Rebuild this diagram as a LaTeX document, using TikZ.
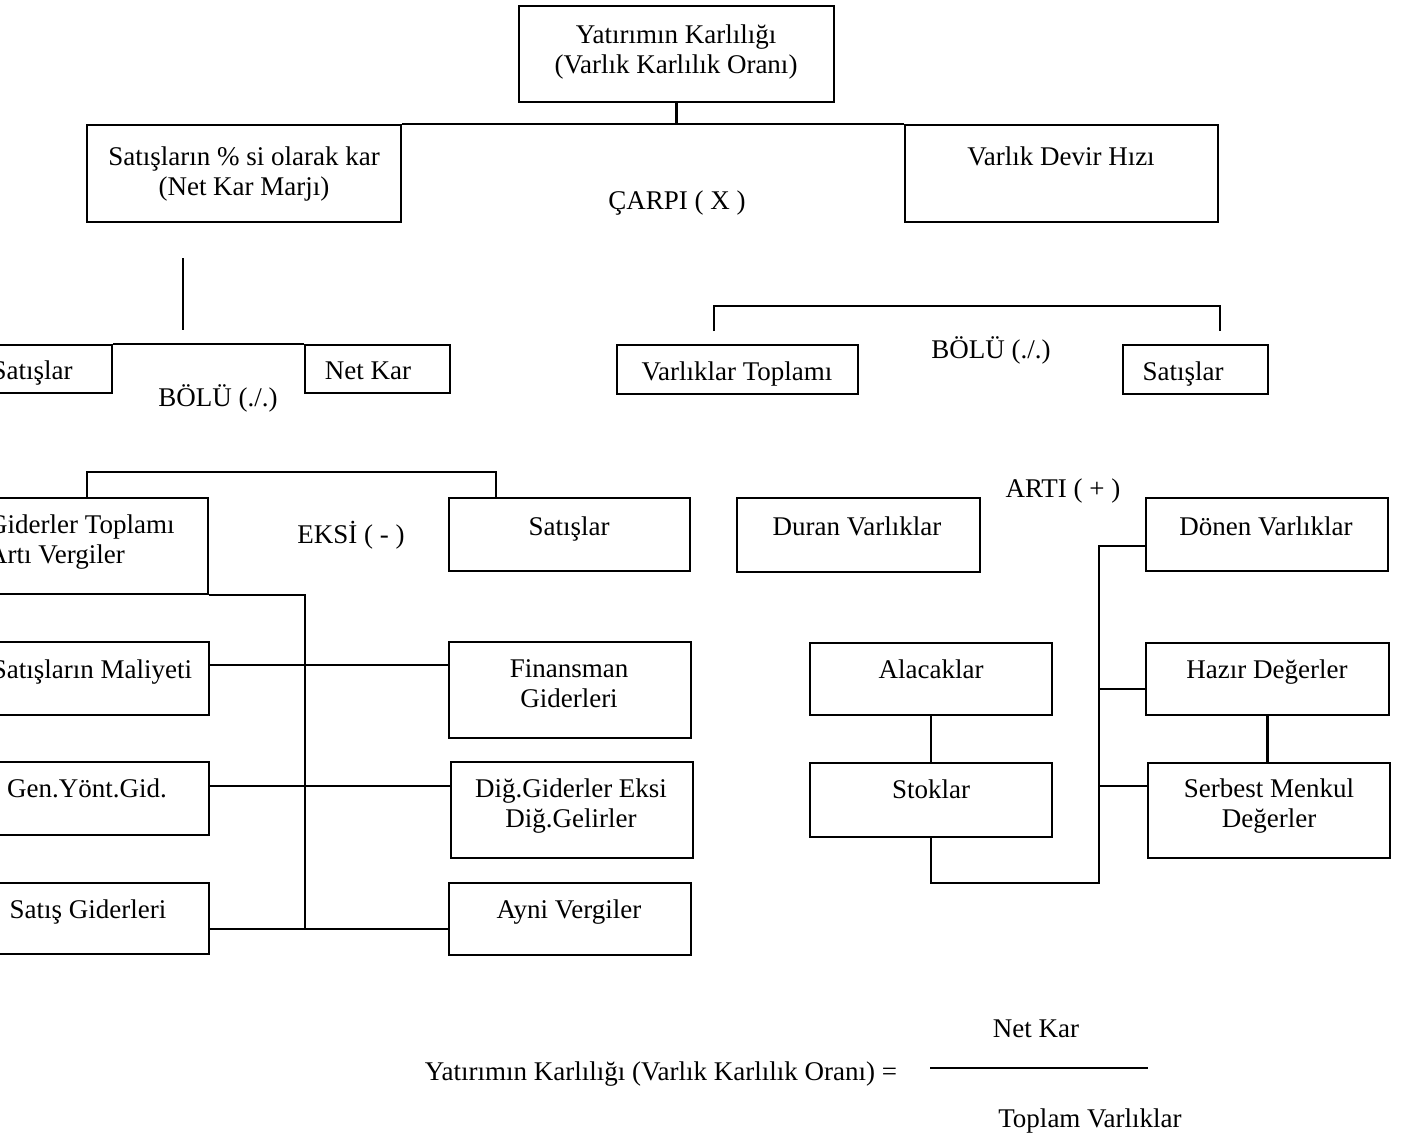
\documentclass[tikz,border=0pt]{standalone}
\usepackage{fontspec}
\setmainfont{Liberation Serif}
\usetikzlibrary{calc}
\newcommand\mybox[5]{\node[box,minimum width={(#4)-(#2)},minimum height={(#5)-(#3)}] (#1) at ({((#2)+(#4))/2},{((#3)+(#5))/2}) {};}
\begin{document}
\begin{tikzpicture}[x=1pt,y=-1pt,
  box/.style={draw,line width=2.3pt,inner sep=0pt},
  txt/.style={inner sep=0pt,align=center,font=\fontsize{27}{30}\selectfont},
  conn/.style={line width=2.2pt}]
\useasboundingbox (0,0) rectangle (1402,1138);
% boxes
\mybox{top}{519}{6}{834}{102}
\mybox{kar}{87}{125}{401}{222}
\mybox{devir}{905}{125}{1218}{222}
\mybox{sat1}{-48}{345}{112}{393}
\mybox{netkar}{305}{345}{450}{393}
\mybox{vt}{617}{345}{858}{394}
\mybox{sat2}{1123}{345}{1268}{394}
\mybox{gid}{-33}{498}{208}{594}
\mybox{satE}{449}{498}{690}{571}
\mybox{duran}{737}{498}{980}{572}
\mybox{donen}{1146}{498}{1388}{571}
\mybox{mal}{-33}{642}{209}{715}
\mybox{fin}{449}{642}{691}{738}
\mybox{gen}{-33}{762}{209}{835}
\mybox{dig}{451}{762}{693}{858}
\mybox{satg}{-33}{883}{209}{954}
\mybox{ayni}{449}{883}{691}{955}
\mybox{ala}{810}{643}{1052}{715}
\mybox{stok}{810}{763}{1052}{837}
\mybox{hazir}{1146}{643}{1389}{715}
\mybox{serb}{1148}{763}{1390}{858}
% coordinates
\coordinate (v1) at (183,258);
\coordinate (v2) at (183,330);
\coordinate (b1) at (714,331);
\coordinate (b2) at (1220,331);
\coordinate (tr) at (305,930);
\coordinate (jr) at (1099,883);
\coordinate (f1) at (930,1068);
\coordinate (f2) at (1148,1068);
% connectors
\draw[conn] (top.south) -- (top.south |- kar.north);
\draw[conn] (kar.north east) -- (devir.north west);
\draw[conn] (v1) -- (v2);
\draw[conn] (sat1.north east) -- (netkar.north west);
\draw[conn] (b1) -- ++(0,-25) -| (b2);
\draw[conn] ([xshift=121pt]gid.north west) -- ++(0,-25) -| ([xshift=48pt]satE.north west);
\draw[conn] (gid.south east) -- (gid.south east -| tr) -- (tr);
\draw[conn] ([yshift=-24pt]mal.north east) -- ([yshift=-24pt]fin.north west);
\draw[conn] ([yshift=-25pt]gen.north east) -- ([yshift=-25pt]dig.north west);
\draw[conn] ([yshift=-47pt]satg.north east) -- ([yshift=-47pt]ayni.north west);
\draw[conn] ([yshift=-49pt]donen.north west) -| (jr) -| (stok.south);
\draw[conn] ([yshift=-47pt]hazir.north west) -- ++(-47,0);
\draw[conn] ([yshift=-24pt]serb.north west) -- ++(-49,0);
\draw[conn] (ala.south) -- (stok.north);
\draw[conn] (hazir.south) -- (hazir.south |- serb.north);
\draw[conn] (f1) -- (f2);
% texts
\node[txt] (t-top) at (676,52) {\strut Yatırımın Karlılığı\\\strut (Varlık Karlılık Oranı)};
\node[txt] (t-kar) at (244,174) {\strut Satışların \% si olarak kar\\\strut (Net Kar Marjı)};
\node[txt,anchor=base] (t-devir) at (1061,165) {Varlık Devir Hızı};
\node[txt,anchor=base] (t-carpi) at (677,209) {ÇARPI ( X )};
\node[txt,anchor=base] (t-sat1) at (32,379) {Satışlar};
\node[txt,anchor=base] (t-netkar) at (368,379) {Net Kar};
\node[txt,anchor=base] (t-bolu1) at (218,406) {BÖLÜ (./.)};
\node[txt,anchor=base] (t-vt) at (737,380) {Varlıklar Toplamı};
\node[txt,anchor=base] (t-bolu2) at (991,358) {BÖLÜ (./.)};
\node[txt,anchor=base] (t-sat2) at (1183,380) {Satışlar};
\node[txt,align=left,anchor=west] (t-gid) at (-12,542) {\strut Giderler Toplamı\\\strut Artı Vergiler};
\node[txt,anchor=base] (t-eksi) at (351,543) {EKSİ ( - )};
\node[txt,anchor=base] (t-satE) at (569,535) {Satışlar};
\node[txt,anchor=base] (t-arti) at (1063,497) {ARTI ( + )};
\node[txt,anchor=base] (t-duran) at (857,535) {Duran Varlıklar};
\node[txt,anchor=base] (t-donen) at (1266,535) {Dönen Varlıklar};
\node[txt,anchor=base] (t-mal) at (92,678) {Satışların Maliyeti};
\node[txt] (t-fin) at (569,686) {\strut Finansman\\\strut Giderleri};
\node[txt,anchor=base] (t-gen) at (87,797) {Gen.Yönt.Gid.};
\node[txt] (t-dig) at (571,806) {\strut Diğ.Giderler Eksi\\\strut Diğ.Gelirler};
\node[txt,anchor=base] (t-satg) at (88,918) {Satış Giderleri};
\node[txt,anchor=base] (t-ayni) at (569,918) {Ayni Vergiler};
\node[txt,anchor=base] (t-ala) at (931,678) {Alacaklar};
\node[txt,anchor=base] (t-stok) at (931,798) {Stoklar};
\node[txt,anchor=base] (t-hazir) at (1267,678) {Hazır Değerler};
\node[txt] (t-serb) at (1269,806) {\strut Serbest Menkul\\\strut Değerler};
\node[txt,anchor=base] (t-nk) at (1036,1037) {Net Kar};
\node[txt,anchor=base] (t-form) at (661,1080) {Yatırımın Karlılığı (Varlık Karlılık Oranı) =};
\node[txt,anchor=base] (t-tv) at (1090,1127) {Toplam Varlıklar};
\end{tikzpicture}
\end{document}
